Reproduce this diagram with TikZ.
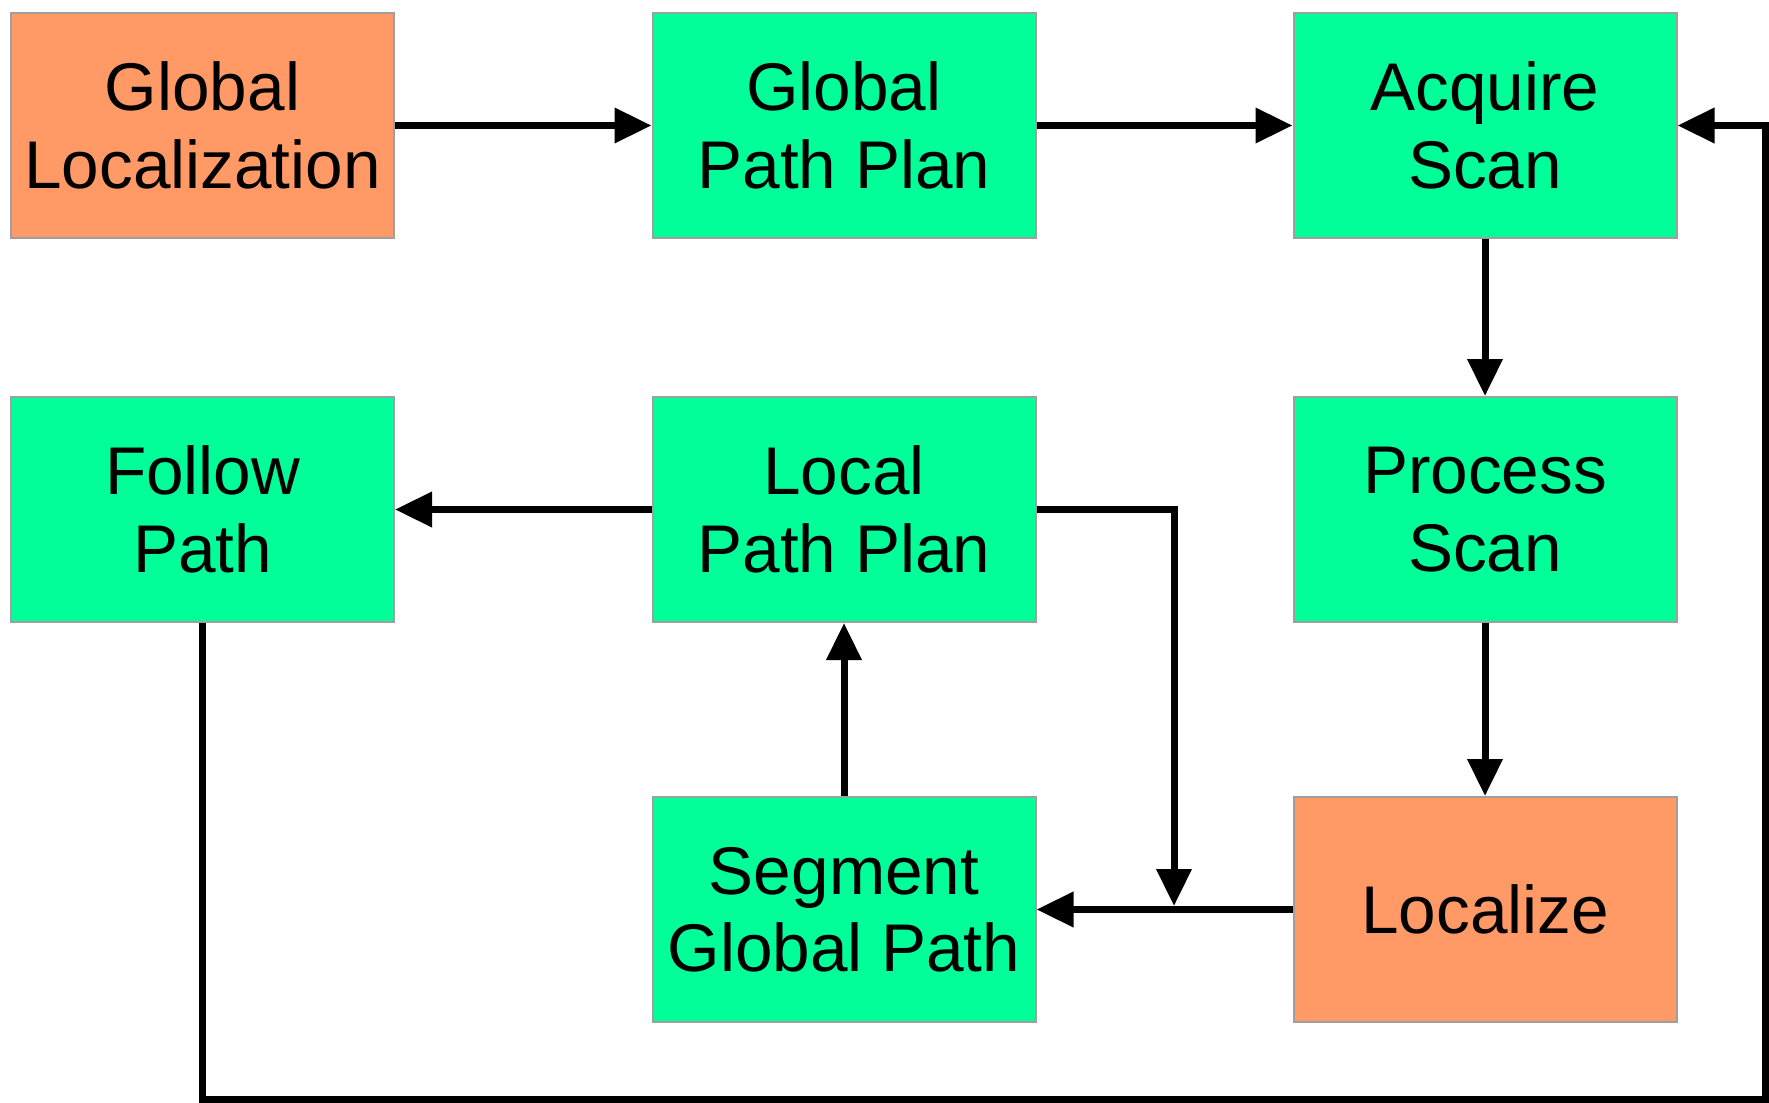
\documentclass[tikz,border=0pt]{standalone}
\usepackage{fontspec}
\setmainfont{Liberation Sans}
\usetikzlibrary{arrows.meta}

\definecolor{stepgreen}{RGB}{0,255,153}
\definecolor{steporange}{RGB}{255,153,102}

\begin{document}
\begin{tikzpicture}[
    box/.style={draw=gray!75, line width=0.02cm, fill=stepgreen,
        minimum width=3.83cm, minimum height=2.25cm, inner sep=0pt,
        align=center, font=\fontsize{19.2}{22}\selectfont},
    hot/.style={box, fill=steporange},
    link/.style={line width=0.07cm, -{Triangle[length=0.37cm, width=0.34cm]}}
  ]
    \useasboundingbox (0,0) rectangle (17.69,-11.03);
    \node[hot] (GL)  at (2.025,-1.255) {Global\\Localization};
    \node[box] (GPP) at (8.44,-1.255)  {Global\\Path Plan};
    \node[box] (AS)  at (14.85,-1.255) {Acquire\\Scan};
    \node[box] (FP)  at (2.025,-5.095) {Follow\\Path};
    \node[box] (LPP) at (8.44,-5.095)  {Local\\Path Plan};
    \node[box] (PS)  at (14.85,-5.095) {Process\\Scan};
    \node[box] (SGP) at (8.44,-9.095)  {Segment\\Global Path};
    \node[hot] (LOC) at (14.85,-9.095) {Localize};
    \coordinate (J)  at (11.74,-9.095);
    \coordinate (BR) at (17.655,-10.995);
    \draw[link] (GL) -- (GPP);
    \draw[link] (GPP) -- (AS);
    \draw[link] (AS) -- (PS);
    \draw[link] (PS) -- (LOC);
    \draw[link] (LOC) -- (SGP);
    \draw[link] (SGP) -- (LPP);
    \draw[link] (LPP) -- (FP);
    \draw[link] (LPP.east) -| ([yshift=0.035cm]J);
    \draw[link] (FP.south) |- (BR) |- (AS.east);
\end{tikzpicture}
\end{document}
